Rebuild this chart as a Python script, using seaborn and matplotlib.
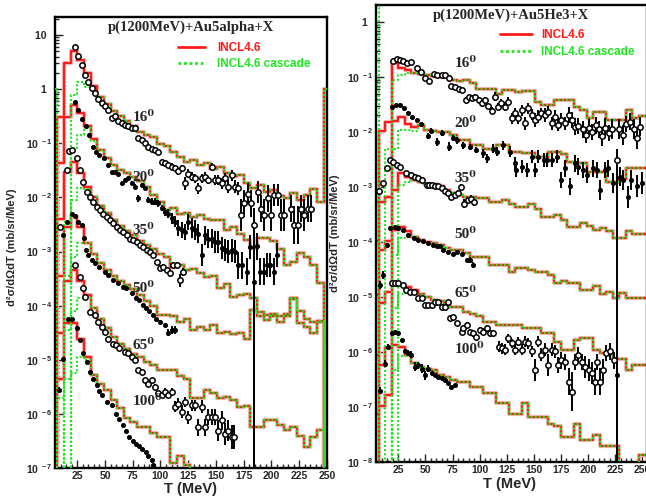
import numpy as np
import pandas as pd
import matplotlib
matplotlib.use("Agg")
import matplotlib.pyplot as plt
import seaborn as sns
from matplotlib.ticker import MultipleLocator, LogLocator, NullFormatter, FuncFormatter
from matplotlib.lines import Line2D

sns.set_style("ticks")
plt.rcParams["font.family"] = ["Liberation Sans", "DejaVu Sans"]
plt.rcParams["font.weight"] = "bold"
plt.rcParams["mathtext.fontset"] = "custom"
plt.rcParams["mathtext.rm"] = "Liberation Sans:bold"
plt.rcParams["mathtext.it"] = "Liberation Sans:bold"
plt.rcParams["mathtext.bf"] = "Liberation Sans:bold"
plt.rcParams["mathtext.sf"] = "Liberation Sans:bold"

RED = "#ff1a1a"
GREEN = "#1ee61e"
HALO = "#f6b8b8"

# ---------------- histogram bins (MeV) ----------------
EDGES = np.arange(1, 254, 6)  # 42 bins of 6 MeV

# log10 of plotted cross-section per bin (None = empty bin)
# ---------- LEFT panel : p+Au -> alpha ----------
LH16 = [None,-0.52,0.48,0.70,0.54,0.30,0.05,-0.14,-0.28,-0.40,-0.50,-0.58,-0.68,-0.80,-0.84,-0.88,-1.02,-1.05,-1.16,-1.26,
        -1.34,-1.30,-1.40,-1.36,-1.48,-1.44,-1.55,-1.60,-1.58,-1.74,-1.82,-1.78,-1.90,-1.86,-1.98,-2.02,-1.92,-2.05,-1.95,-1.85,-2.08,0.0]
LG16 = [0.0,None,None,-0.11,0.14,0.04,-0.02]
LH20 = [-1.53,-1.37,-0.52,-0.29,-0.45,-0.68,-0.92,-1.12,-1.28,-1.40,-1.50,-1.55,-1.62,-1.70,-1.80,-1.95,-2.08,-2.23,-2.20,-2.30,
        -2.28,-2.36,-2.33,-2.40,-2.42,-2.42,-2.60,-2.55,-2.68,-2.79,-2.94,-2.75,-2.75,-2.80,-2.95,-3.25,-3.20,-3.03,-3.10,-3.25,-3.59,None]
LG20 = [None,None,None,-1.10,-0.85,-0.72,-0.95]
LH35 = [-2.55,-2.40,-1.53,-1.34,-1.55,-1.80,-2.0,-2.15,-2.28,-2.42,-2.52,-2.62,-2.70,-2.80,-2.88,-2.96,-3.05,-3.10,-3.29,-3.25,
        -3.35,-3.32,-3.40,-3.47,-3.45,-3.68,-3.60,-3.84,-3.80,-3.78,-3.85,-4.12,-4.18,-4.15,-4.30,-4.20,-3.86,-4.10,-4.25,-4.30,-4.28,None]
LG35 = [None,None,-2.45,-2.05,-1.83,-1.85,-2.0]
LH50 = [-3.60,-3.45,-2.55,-2.35,-2.55,-2.85,-3.05,-3.22,-3.35,-3.45,-3.55,-3.62,-3.70,-3.80,-3.92,-4.0,-4.18,-4.18,-4.20,-4.30,
        -4.25,-4.45,-4.40,-4.45,-4.35,-4.50,-4.48,-4.52,-4.50,-4.62,-4.08,-4.20,-4.27,-4.20,-4.20,-4.15,-3.87,-4.33,-4.40,-4.51,-4.30,None]
LG50 = [None,None,-3.45,-3.1,-2.85,-2.85,-3.05]
LH65 = [-4.60,-4.50,-3.55,-3.34,-3.55,-3.80,-4.05,-4.25,-4.42,-4.58,-4.70,-4.80,-4.90,-4.95,-5.05,-5.10,-5.19,-5.19,-5.19,-5.30,
        -5.35,-5.70,-5.70,-5.55,-5.62,-5.70,-5.68,-5.75,-5.87,-5.85,-6.25,-6.25,-6.12,-6.12,-6.20,-6.30,-6.25,-6.40,-6.62,-6.43,-6.30,None]
LG65 = [None,None,-4.45,-4.1,-3.85,-3.85,-4.05]
LH100 = [-5.70,-5.35,-4.33,-4.33,-4.62,-4.95,-5.28,-5.45,-5.56,-5.75,-5.90,-6.08,-6.15,-6.25,-6.25,-6.35,-6.43,-6.43,-6.91,-6.78,
         -6.95,-7.10,-7.20,-7.40,None,None,None,None,None,None,None,None,None,None,None,None,None,None,None,None,None,None]
LG100 = [None,-5.7,-5.35,-5.25,-4.95,-5.0,-5.28]

# ---------- RIGHT panel : p+Au -> 3He ----------
RH16 = [None,-1.99,-1.81,-0.75,-0.84,-0.87,-0.92,-0.95,-0.96,-0.98,-1.00,-1.00,-1.05,-1.08,-1.05,-1.11,-1.21,-1.21,-1.22,-1.30,
        -1.24,-1.24,-1.27,-1.25,-1.25,-1.45,-1.51,-1.51,-1.42,-1.42,-1.42,-1.55,-1.60,-1.75,-1.63,-1.63,-1.78,-1.78,-1.78,-1.60,-1.75,-1.70]
RG16 = [0.5,None,-2.3,-1.05,-0.96,-0.92,-0.92]
RH20 = [-3.27,-3.27,-3.18,-1.80,-1.72,-1.85,-1.90,-1.88,-1.96,-1.99,-2.00,-2.00,-2.05,-2.15,-2.15,-2.24,-2.24,-2.30,-2.30,-2.24,
        -2.24,-2.36,-2.36,-2.39,-2.39,-2.45,-2.45,-2.36,-2.36,-2.40,-2.54,-2.57,-2.57,-2.72,-2.72,-2.72,-2.90,-2.90,-2.85,-2.66,-2.66,-2.66]
RG20 = [None,None,None,-2.3,-1.96,-1.96,-1.98]
RH35 = [-3.99,-4.15,-3.99,-3.05,-2.75,-2.81,-2.87,-2.90,-2.95,-2.95,-2.98,-3.05,-3.10,-3.15,-3.18,-3.18,-3.20,-3.20,-3.27,-3.27,
        -3.24,-3.30,-3.36,-3.36,-3.30,-3.40,-3.54,-3.54,-3.50,-3.60,-3.72,-3.72,-3.65,-3.70,-3.78,-3.75,-3.80,-3.93,-3.93,-3.80,-3.85,-3.85]
RG35 = [None,None,None,None,-2.96,-2.90,-2.88]
RH50 = [-4.96,-5.11,-4.90,-3.78,-3.73,-3.80,-3.90,-3.96,-4.00,-4.02,-4.05,-4.10,-4.15,-4.15,-4.20,-4.27,-4.27,-4.27,-4.42,-4.42,
        -4.42,-4.54,-4.48,-4.48,-4.50,-4.54,-4.54,-4.60,-4.75,-4.70,-4.75,-4.75,-4.87,-4.87,-4.80,-4.95,-4.90,-5.02,-4.92,-5.02,-5.02,-5.02]
RG50 = [None,None,None,-4.24,-3.93,-3.90,-3.90]
RH65 = [-6.05,-6.24,-5.93,-4.78,-4.78,-4.82,-4.88,-4.95,-5.00,-5.05,-5.08,-5.12,-5.18,-5.18,-5.27,-5.30,-5.35,-5.45,-5.45,-5.51,
        -5.51,-5.50,-5.50,-5.57,-5.57,-5.57,-5.66,-5.66,-5.81,-5.96,-5.96,-5.78,-5.75,-5.75,-5.96,-6.02,-6.05,-6.12,-6.12,-6.33,-6.24,-6.24]
RG65 = [None,None,None,-5.2,-4.95,-4.92,-4.95]
RH100 = [-7.12,-6.99,-6.78,-5.87,-5.90,-6.05,-6.20,-6.27,-6.30,-6.33,-6.42,-6.45,-6.50,-6.55,-6.55,-6.63,-6.63,-6.75,-6.75,-6.93,
         -6.93,-7.12,-7.12,-6.93,-7.18,-7.18,-7.18,-7.30,-7.35,-7.54,-7.54,-7.30,-7.60,-7.60,-7.50,-7.70,-7.70,-7.70,-8.30,-8.30,-8.30,-7.87]
RG100 = [None,None,None,-6.33,-6.08,-6.08,-6.20]

# ---------------- experimental data: T (MeV), log10(value), log10 error ----------------
LT16 = [23,26,29,32,35,38,41,44,47,50,53,56,59,62,65,68,71,74,77,80,83,86,89,92,95,98,101,104,107,110,113,116,119,122,125,128,131,134,137,140,
        143,146,149,152,155,158,161,164,167,170,172.5,175.5,178.5,181.5,187.5,190.5,193.5,196.5,199.5,202.5,205.5,208.5,211.5,217.5,220.5,223.5,226.5,229.5,232.5,235.5]
LL16 = [0.77,0.61,0.44,0.26,0.13,0.02,-0.07,-0.19,-0.25,-0.31,-0.39,-0.54,-0.50,-0.58,-0.62,-0.66,-0.68,-0.72,-0.72,-0.91,
        -0.94,-1.0,-1.06,-1.10,-1.12,-1.16,-1.34,-1.37,-1.40,-1.43,-1.46,-1.52,-1.46,-1.74,-1.56,-1.62,-1.65,-1.83,-1.65,-1.62,
        -1.68,-1.43,-1.68,-1.68,-1.74,-1.65,-1.80,-1.59,-1.80,-1.83,-2.33,-2.11,-1.93,-2.11,-1.90,-2.21,-2.33,-2.02,-2.33,-1.96,
        -1.96,-2.33,-2.33,-2.21,-2.51,-2.51,-2.21,-2.33,-2.21,-2.21]
LE16 = [0,0,0,0,0,0,0,0,0,0,0,0,0,0,0,0,0,0,0,0,0,0,0,
        0.03,0.03,0.04,0.05,0.05,0.05,0.06,0.06,0.06,0.06,0.12,0.08,0.08,0.08,0.10,0.08,0.08,0.08,0.06,0.10,
        0.10,0.10,0.10,0.12,0.10,0.12,0.12,0.30,0.25,0.20,0.25,0.20,0.25,0.30,0.25,0.30,0.20,0.20,0.30,0.30,
        0.25,0.35,0.35,0.25,0.30,0.25,0.25]
LT20 = [23,26,29,33,36,39,42,45,49,53,56,59,62,65,68,71,74,77,80,83,86,89,92,95,98,101,104,107,110,113,
        116,119,122,125,128,131,134,137,140,143,146,149,152,155,158,161,164,167,170,173,178,181,187,190,193,196,199,202,205]
LL20 = [-0.23,-0.39,-0.56,-0.69,-0.85,-1.06,-1.16,-1.22,-1.28,-1.40,-1.53,-1.53,-1.56,-1.74,-1.68,-1.65,-1.74,-1.80,-2.02,-1.77,
        -1.83,-2.05,-2.08,-2.08,-2.11,-2.20,-2.27,-2.30,-2.39,-2.45,-2.57,-2.60,-2.64,-2.45,-2.57,-2.60,-2.67,-3.07,-2.70,-2.76,
        -2.76,-2.82,-2.82,-2.94,-2.97,-3.0,-2.98,-3.0,-3.25,-3.25,-3.37,-2.91,-2.9,-3.37,-3.37,-3.25,-3.25,-3.37,-3.07]
LE20 = [0,0,0,0,0,0,0,0,0,0,0,0,0,0.03,0.03,0.03,0.04,0.04,0.06,0.04,
        0.04,0.06,0.06,0.06,0.06,0.06,0.08,0.08,0.10,0.10,0.15,0.15,0.15,0.15,0.18,0.18,0.18,0.20,0.18,0.18,
        0.18,0.20,0.20,0.20,0.20,0.22,0.22,0.22,0.25,0.25,0.25,0.22,0.25,0.25,0.25,0.22,0.22,0.25,0.22]
LT35 = [9.5,15.5,17.5,20.5,24.5,27.5,30.5,33.5,36.5,39.5,42.5,45.5,48.5,51.5,54.5,57.5,60.5,63.5,66.5,69.5,
        72.5,75.5,78.5,81.5,84.5,87.5,90.5,93.5,96.5,99.5,102.5,105.5,108.5,111.5,114.5,117.5,120.5]
LL35 = [-2.54,-1.50,-1.15,-1.12,-1.28,-1.50,-1.72,-1.90,-2.0,-2.09,-2.18,-2.23,-2.30,-2.36,-2.42,-2.48,-2.54,-2.60,-2.64,-2.70,
        -2.76,-2.79,-2.82,-2.88,-2.91,-2.97,-3.0,-3.07,-3.19,-3.31,-3.28,-3.34,-3.40,-3.25,-3.25,-3.53,-3.38]
LE35 = [0,0,0,0,0,0,0,0,0,0,0,0,0,0,0,0,0,0,0,0,0,0,0,0,0,0,0.03,0.03,0.04,0.05,0.05,0.06,0.08,0.06,0.06,0.12,0.08]
LT50 = [12.5,16,20,23,26,29,31,33,35,38,41,45,50,53,57,62,66,69,74,78,81,84,87,90,93,96,100,104,107,110,113]
LL50 = [-2.70,-2.45,-2.30,-2.35,-2.45,-2.51,-2.75,-2.97,-3.07,-3.15,-3.22,-3.28,-3.38,-3.44,-3.53,-3.59,-3.65,-3.68,-3.77,-3.85,
        -3.90,-3.98,-4.05,-4.10,-4.18,-4.25,-4.30,-4.36,-4.50,-4.45,-4.45]
LE50 = [0,0,0,0,0,0,0,0,0,0,0,0,0,0,0,0,0,0,0,0,0,0,0,0,0,0,0.03,0.04,0.06,0.08,0.08]
LT65 = [23,27.5,30.5,32,36.5,41,44,47,50,53,57,60,63,68,71,74,77,80,83,86,89,92,95,98,101,104,107,110,113,116,
        119,122,125,128,131,134,137,140,143,146,149,152,155,158,161,164,166]
LL65 = [-3.25,-3.47,-3.68,-3.84,-4.11,-4.18,-4.30,-4.40,-4.48,-4.61,-4.70,-4.73,-4.79,-4.85,-4.88,-4.95,-5.01,-5.19,-5.22,-5.38,
        -5.44,-5.38,-5.50,-5.62,-5.65,-5.59,-5.65,-5.59,-5.87,-5.81,-5.96,-5.78,-6.06,-5.84,-5.84,-6.25,-5.87,-6.25,-6.06,-6.06,
        -6.06,-6.31,-6.12,-6.37,-6.31,-6.43,-6.43]
LE65 = [0,0,0,0,0,0,0,0,0,0,0,0,0,0,0,0,0,0,0.03,0.03,0.04,0.04,0.05,0.05,0.06,0.06,0.06,0.06,0.10,0.10,
        0.12,0.10,0.12,0.10,0.10,0.15,0.12,0.15,0.15,0.15,0.15,0.20,0.18,0.20,0.20,0.22,0.22]
LT100 = [9,12.5,17,20,24.5,27.5,30.5,33.5,36.5,39.5,42.5,45,47,51.5,56,60,63,66,69,72,75,78,81,83,87,89,92,93.5]
LL100 = [-5.56,-4.98,-4.24,-4.25,-4.42,-4.64,-4.88,-5.04,-5.22,-5.35,-5.47,-5.58,-5.65,-5.78,-5.84,-6.0,-6.1,-6.21,-6.32,-6.43,
         -6.50,-6.55,-6.60,-6.64,-6.71,-6.78,-6.86,-6.95]
LE100 = [0.05,0.03,0,0,0,0,0,0,0,0,0,0,0,0,0,0,0,0,0,0,0,0,0,0,0,0,0,0]
# points with an error bar reaching the bottom of the frame: T, log10 value, log10 top of bar, filled?
LSPK_T = [184.5, 184.5]
LSPK_L = [-2.51, -3.56]
LSPK_TOP = [-2.20, -3.10]
LSPK_FILLED = [False, True]

RT16 = [20.5,23.5,26.5,29.5,33,36.5,42.5,45.5,49.5,53,58,61,65,68,72,74,77,81,84,87,90,93,96,99.5,102,105,108,111,114,117,
        120,123,126.5,129.5,132.5,135.5,139,142,145,148,151,154,157,160,163,166.5,169.5,172.5,175.5,179,
        182,185,188,191,195,198,201,204,207,210,213,216,219,222,229,232,235,239,242,245,248]
RL16 = [-0.71,-0.68,-0.69,-0.71,-0.75,-0.72,-0.84,-0.90,-1.01,-1.08,-0.95,-0.97,-0.97,-0.96,-1.02,-1.16,-1.19,-1.21,-1.24,-1.41,
        -1.37,-1.39,-1.36,-1.42,-1.48,-1.42,-1.53,-1.61,-1.36,-1.54,-1.48,-1.54,-1.45,-1.75,-1.66,-1.75,-1.60,-1.84,-1.57,-1.69,
        -1.78,-1.72,-1.66,-1.69,-1.63,-1.84,-1.72,-1.87,-1.78,-1.84,-1.69,-1.78,-1.90,-1.89,-1.95,-2.05,-1.92,-2.0,-1.88,-1.95,
        -2.08,-1.92,-2.02,-1.95,-1.95,-2.05,-1.85,-1.81,-1.95,-2.10,-1.90]
RE16 = [0,0,0,0,0,0,0,0,0,0,0,0,0,0,0,0,0,0,0,
        0.05,0.05,0.05,0.05,0.05,0.06,0.06,0.06,0.06,0.08,0.06,0.08,0.08,0.08,0.10,0.10,0.10,0.10,0.12,0.10,0.10,
        0.12,0.12,0.10,0.12,0.10,0.12,0.12,0.12,0.12,0.12,0.15,0.15,0.15,0.15,0.15,0.15,0.15,0.15,0.15,0.15,
        0.18,0.18,0.15,0.18,0.18,0.18,0.15,0.15,0.18,0.20,0.18]
RT20 = [19,23,27,30.5,34,37.5,42,46,52,55.5,60.5,65,72,75.5,79.5,85,91,97,103.5,106.5,112.5,116,122,128,132.5,134,139,143.5,148,151,
        154,159,162,166.5,171,175.5,179,183.5,188,191,195.5,199,205,208,211,215.5,218.5,223,229.5,232.5,237,240,245,249.5]
RL20 = [-1.54,-1.51,-1.51,-1.56,-1.66,-1.72,-1.78,-1.85,-2.07,-1.98,-2.18,-2.02,-2.27,-2.11,-2.15,-2.24,-2.27,-2.33,-2.39,-2.48,
        -2.30,-2.36,-2.24,-2.36,-2.57,-2.69,-2.63,-2.69,-2.45,-2.69,-2.45,-2.51,-2.51,-2.51,-2.45,-2.87,-2.66,-2.99,-2.57,-2.63,
        -2.69,-2.78,-2.66,-2.69,-3.05,-2.69,-2.66,-2.93,-2.81,-2.87,-3.18,-2.87,-2.99,-2.93]
RE20 = [0,0,0,0,0,0,0,0,0.06,0.06,0.08,0.06,0.08,0.06,0.06,0.06,0.06,0.06,0.08,0.08,0.08,0.08,0.08,0.10,0.12,0.12,0.12,0.12,0.12,0.12,
        0.12,0.12,0.12,0.12,0.12,0.15,0.15,0.15,0.15,0.15,0.15,0.15,0.15,0.15,0.18,0.15,0.15,0.18,0.18,0.18,0.20,0.18,0.20,0.20]
RT35 = [7.5,11,14.5,17.5,20.5,23.5,26.5,32.5,37,40.5,43.5,46.5,51,53.5,56.5,59,62,65,68,71,74,77,80,83,86,89,92,95]
RL35 = [-3.08,-2.93,-2.66,-2.51,-2.54,-2.60,-2.63,-2.75,-2.78,-2.81,-2.84,-2.87,-2.96,-2.96,-2.96,-2.99,-2.99,-3.02,-3.08,-3.11,
        -3.18,-3.15,-3.10,-3.0,-3.30,-3.24,-3.21,-3.28]
RE35 = [0.06,0.04,0,0,0,0,0,0,0,0,0,0,0,0,0,0,0,0,0,0.03,0.03,0.04,0.04,0.05,0.08,0.06,0.06,0.06]
RT50 = [8,11,14.5,17.5,22,25,29.5,34,39,43.5,48,52.5,57,60.5,63.5,66.5,71,75.5,79,83.5,88,91,94]
RL50 = [-4.78,-4.60,-4.05,-3.75,-3.72,-3.75,-3.78,-3.87,-3.93,-3.96,-3.99,-4.02,-4.05,-4.08,-4.08,-4.15,-4.18,-4.21,-4.18,-4.21,
        -4.33,-4.33,-4.42]
RE50 = [0.08,0.08,0.03,0,0,0,0,0,0,0,0,0,0,0,0,0,0,0,0,0,0.04,0.05,0.06]
RT65 = [19,22,25,29.5,32.5,36,39,43.5,46.5,49.5,52.5,56,59,62,65,68,71,73,75.5,79,83.5,85,88,91,94,97,100,103.5,106.5,109.5,
        112.5,117.5,120.5,123.5,126.5,129.5,132.5,135.5,139,142,145,148,151,154,157,160,163.5,166.5,169.5,172.5,
        175.5,179,182,185,188,191,194,197,200.5,203.5,206.5,208,211,214,217,220,223.5]
RL65 = [-4.75,-4.75,-4.75,-4.78,-4.87,-4.90,-4.90,-5.02,-5.02,-5.15,-5.15,-5.15,-5.09,-5.09,-5.18,-5.18,-5.09,-5.39,-5.36,-5.48,
        -5.63,-5.57,-5.51,-5.63,-5.66,-5.72,-5.60,-5.63,-5.57,-5.66,-5.66,-5.90,-5.93,-5.96,-5.75,-5.84,-5.96,-5.81,-5.96,-5.81,
        -5.84,-5.99,-6.33,-5.81,-6.05,-5.96,-6.24,-5.96,-5.99,-6.24,-6.15,-6.18,-6.54,-6.72,-6.18,-6.05,-6.18,-6.27,-6.33,-6.39,
        -6.54,-6.18,-6.54,-6.33,-6.02,-5.99,-6.15]
RE65 = [0,0,0,0,0,0,0,0,0,0,0,0,0,0,0,0,0,0.04,0.04,0.05,
        0.05,0.05,0.05,0.05,0.06,0.06,0.06,0.06,0.06,0.06,0.06,0.10,0.10,0.10,0.08,0.08,0.10,0.08,0.10,0.10,
        0.10,0.10,0.20,0.10,0.12,0.12,0.20,0.12,0.12,0.15,0.15,0.15,0.25,0.35,0.15,0.15,0.15,0.20,0.20,0.20,
        0.25,0.15,0.25,0.20,0.15,0.15,0.15]
RT100 = [8.5,12.7,15.8,19,22,25,28,31,34,37,40.5,43.5,46.5,49.5,52.5,56,59,62,65,68,71,74,77]
RL100 = [-6.70,-6.21,-5.90,-5.66,-5.63,-5.66,-5.78,-5.99,-6.02,-6.05,-6.27,-6.24,-6.30,-6.42,-6.30,-6.39,-6.42,-6.45,-6.48,-6.51,
         -6.57,-6.63,-6.60]
RE100 = [0.06,0.06,0.04,0,0,0,0,0.05,0.06,0.06,0.08,0.06,0.08,0.08,0.06,0,0,0,0,0,0,0,0]
RSPK_T = [226.5, 226.5]
RSPK_L = [-2.51, -6.42]
RSPK_TOP = [-2.30, -6.20]
RSPK_FILLED = [False, True]

ANGLES = ["16\u2070", "20\u2070", "35\u2070", "50\u2070", "65\u2070", "100\u2070"]
LLAB_T = 75.0
LLAB_L = [-0.53, -1.64, -2.62, -3.68, -4.73, -5.78]
RLAB_T = 77.0
RLAB_L = [-0.75, -1.84, -2.84, -3.87, -4.93, -5.96]


def step_frame(vals):
    y = [1e-12 if v is None else 10.0 ** v for v in vals]
    y.append(y[-1])
    return pd.DataFrame({"T": EDGES, "y": y})


def draw_model(ax, red, green_head):
    green = list(green_head) + list(red[len(green_head):])
    dr = step_frame(red)
    dg = step_frame(green)
    sns.lineplot(data=dr, x="T", y="y", ax=ax, drawstyle="steps-post", color=HALO, lw=3.0,
                 estimator=None, sort=False, zorder=1)
    sns.lineplot(data=dr, x="T", y="y", ax=ax, drawstyle="steps-post", color=RED, lw=1.5,
                 estimator=None, sort=False, zorder=2)
    sns.lineplot(data=dg, x="T", y="y", ax=ax, drawstyle="steps-post", color=GREEN, lw=1.5,
                 estimator=None, sort=False, zorder=3)
    ax.lines[-1].set_linestyle((0, (1, 1)))


def draw_data(ax, T, L, E, filled):
    T = np.asarray(T, float)
    y = 10.0 ** np.asarray(L, float)
    e = np.asarray(E, float)
    m = e > 0
    if m.any():
        ax.errorbar(T[m], y[m], yerr=[y[m] - y[m] * 10.0 ** (-e[m]), y[m] * 10.0 ** e[m] - y[m]],
                    fmt="none", ecolor="black", elinewidth=1.4, capsize=0, zorder=4)
    if filled:
        sns.scatterplot(x=T, y=y, ax=ax, marker="o", s=9, color="black", edgecolor="black",
                        linewidth=0.6, zorder=5, legend=False)
    else:
        sns.scatterplot(x=T, y=y, ax=ax, marker="o", s=15, color="white", edgecolor="black",
                        linewidth=1.1, zorder=5, legend=False)


def draw_spikes(ax, T, L, TOP, FILLED, bottom):
    for t, l, top, f in zip(T, L, TOP, FILLED):
        y = 10.0 ** l
        ax.errorbar([t], [y], yerr=[[y - bottom], [10.0 ** top - y]], fmt="none", ecolor="black",
                    elinewidth=1.4, capsize=0, zorder=4)
        draw_data(ax, [t], [l], [0], f)


def yfmt(v, pos):
    e = int(round(np.log10(v)))
    if e == 0:
        return "1  "
    if e == 1:
        return "10  "
    return r"$10^{\ %d}$" % e


def style_axes(ax, xlim, ylo, yhi):
    ax.set_yscale("log")
    ax.set_xlim(*xlim)
    ax.set_ylim(ylo, yhi)
    ax.xaxis.set_major_locator(MultipleLocator(25))
    ax.xaxis.set_minor_locator(MultipleLocator(5))
    ax.yaxis.set_major_locator(LogLocator(base=10, numticks=20))
    ax.yaxis.set_minor_locator(LogLocator(base=10, subs=np.arange(2, 10), numticks=20))
    ax.yaxis.set_major_formatter(FuncFormatter(yfmt))
    ax.yaxis.set_minor_formatter(NullFormatter())
    ax.tick_params(which="both", direction="in", top=False, right=False, labelsize=7.5, width=1.0)
    ax.tick_params(which="major", length=6)
    ax.tick_params(which="minor", length=3)
    ax.tick_params(axis="x", pad=2.5)
    ax.tick_params(axis="y", pad=2)
    for s in ax.spines.values():
        s.set_linewidth(1.7)
        s.set_color("black")
    ax.set_xlabel("T (MeV)", fontsize=10.5, fontweight="bold")
    ax.set_ylabel("d\u00b2\u03c3/d\u03a9dT (mb/sr/MeV)", fontsize=8, fontweight="bold")


def add_legend(ax, anchor, hlen, hpad, lspace):
    handles = [Line2D([], [], color=RED, lw=2.0),
               Line2D([], [], color=GREEN, lw=2.0, ls=(0, (1, 1)))]
    leg = ax.legend(handles, ["INCL4.6", "INCL4.6 cascade"], loc="upper left", bbox_to_anchor=anchor,
                    frameon=False, prop=dict(family="Liberation Sans", weight="bold", size=8.5),
                    handlelength=hlen, handletextpad=hpad, labelspacing=lspace, borderpad=0,
                    borderaxespad=0)
    leg.get_texts()[0].set_color(RED)
    leg.get_texts()[1].set_color(GREEN)


fig = plt.figure(figsize=(6.46, 4.96), dpi=100)
axL = fig.add_axes([55 / 646, 28 / 496, 272 / 646, 451 / 496])
axR = fig.add_axes([376 / 646, 34 / 496, 271 / 646, 457 / 496])

# ---------- left panel ----------
style_axes(axL, (5, 250), 1e-7, 10 ** 1.333)
for red, gh in [(LH16, LG16), (LH20, LG20), (LH35, LG35), (LH50, LG50), (LH65, LG65), (LH100, LG100)]:
    draw_model(axL, red, gh)
for T, L, E, f in [(LT16, LL16, LE16, False), (LT20, LL20, LE20, True), (LT35, LL35, LE35, False),
                   (LT50, LL50, LE50, True), (LT65, LL65, LE65, False), (LT100, LL100, LE100, True)]:
    draw_data(axL, T, L, E, f)
draw_spikes(axL, LSPK_T, LSPK_L, LSPK_TOP, LSPK_FILLED, 1e-9)
for lab, l in zip(ANGLES, LLAB_L):
    axL.text(LLAB_T, 10 ** l, lab, fontsize=11, fontweight="bold", ha="left", va="center",
             family=["Liberation Serif", "DejaVu Serif"], zorder=6)
axL.text(0.5, 0.978, "p(1200MeV)+Au5alpha+X", transform=axL.transAxes, ha="center", va="center",
         fontsize=10.5, fontweight="bold", family=["Liberation Serif", "DejaVu Serif"])
add_legend(axL, (0.452, 0.945), 2.3, 1.0, 0.35)
axL.xaxis.set_label_coords(0.5, -0.030)
axL.yaxis.set_label_coords(-0.14, 0.49)

# ---------- right panel ----------
style_axes(axR, (4.4, 254.4), 1e-8, 10 ** 0.31)
for red, gh in [(RH16, RG16), (RH20, RG20), (RH35, RG35), (RH50, RG50), (RH65, RG65), (RH100, RG100)]:
    draw_model(axR, red, gh)
for T, L, E, f in [(RT16, RL16, RE16, False), (RT20, RL20, RE20, True), (RT35, RL35, RE35, False),
                   (RT50, RL50, RE50, True), (RT65, RL65, RE65, False), (RT100, RL100, RE100, True)]:
    draw_data(axR, T, L, E, f)
draw_spikes(axR, RSPK_T, RSPK_L, RSPK_TOP, RSPK_FILLED, 1e-10)
for lab, l in zip(ANGLES, RLAB_L):
    axR.text(RLAB_T, 10 ** l, lab, fontsize=11, fontweight="bold", ha="left", va="center",
             family=["Liberation Serif", "DejaVu Serif"], zorder=6)
axR.text(0.5, 0.978, "p(1200MeV)+Au5He3+X", transform=axR.transAxes, ha="center", va="center",
         fontsize=10.5, fontweight="bold", family=["Liberation Serif", "DejaVu Serif"])
add_legend(axR, (0.4576, 0.9475), 2.7, 0.8, 0.45)
axR.xaxis.set_label_coords(0.494, -0.032)
axR.yaxis.set_label_coords(-0.133, 0.5)

fig.savefig("out.png", dpi=100)
